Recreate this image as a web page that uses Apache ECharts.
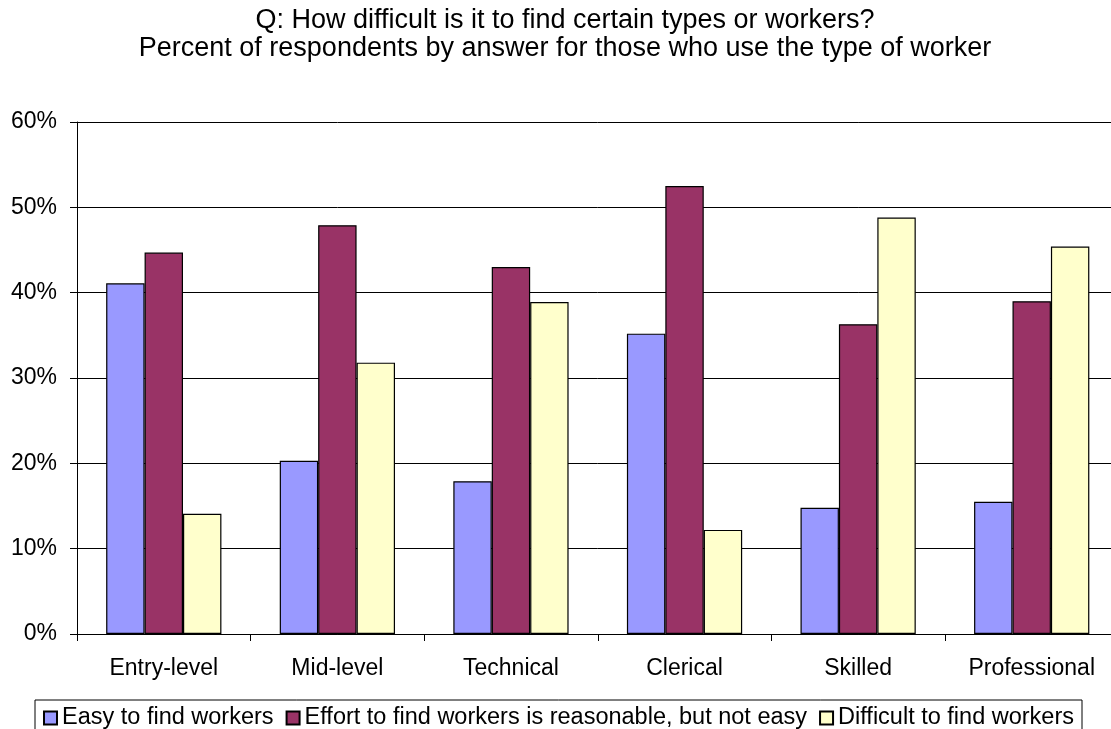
<!DOCTYPE html>
<html>
<head>
<meta charset="utf-8">
<script src="https://cdn.jsdelivr.net/npm/echarts@6/dist/echarts.min.js"></script>
<style>
html,body{margin:0;padding:0;background:#fff;overflow:hidden;width:1111px;height:729px;}
#chart{width:1119px;height:729px;}
</style>
</head>
<body>
<div id="chart"></div>
<script>
var categories = ['Entry-level', 'Mid-level', 'Technical', 'Clerical', 'Skilled', 'Professional'];
var seriesNames = ['Easy to find workers', 'Effort to find workers is reasonable, but not easy', 'Difficult to find workers'];
var easyValues = [41.1, 20.3, 17.9, 35.2, 14.8, 15.5];
var effortValues = [44.7, 47.9, 43.0, 52.5, 36.3, 39.0];
var difficultValues = [14.1, 31.8, 38.9, 12.2, 48.8, 45.4];
var yTicks = [0, 10, 20, 30, 40, 50, 60];
var colors = ['#9999FF', '#993366', '#FFFFCC'];

var FONT = 'Liberation Sans, Arial, sans-serif';
var chart = echarts.init(document.getElementById('chart'), null, {renderer: 'canvas'});

function mkSeries(name, data, color) {
  return {
    name: name,
    type: 'bar',
    data: data,
    barGap: '0%',
    barCategoryGap: '33.6%',
    itemStyle: {color: color, borderColor: '#000', borderWidth: 1.2},
    emphasis: {disabled: true},
    animation: false
  };
}

chart.setOption({
  animation: false,
  backgroundColor: '#fff',
  title: {
    text: 'Q: How difficult is it to find certain types or workers?\nPercent of respondents by answer for those who use the type of worker',
    left: 565,
    textAlign: 'center',
    top: 7,
    padding: 0,
    textStyle: {fontFamily: FONT, fontSize: 27, fontWeight: 'normal', color: '#000', lineHeight: 28}
  },
  legend: {
    left: 35,
    top: 700,
    padding: [6, 8, 12, 8],
    icon: 'rect',
    itemWidth: 13,
    itemHeight: 13,
    itemGap: 12,
    borderColor: '#000',
    borderWidth: 1,
    textStyle: {fontFamily: FONT, fontSize: 23.5, color: '#000'},
    data: seriesNames
  },
  grid: {left: 77, top: 122, right: 0.5, bottom: 95, containLabel: false},
  xAxis: {
    type: 'category',
    data: categories,
    axisLine: {lineStyle: {color: '#000', width: 1}},
    axisTick: {show: true, length: 7, lineStyle: {color: '#000'}},
    axisLabel: {fontFamily: FONT, fontSize: 23, color: '#000', margin: 23, interval: 0}
  },
  yAxis: {
    type: 'value',
    min: yTicks[0],
    max: yTicks[yTicks.length - 1],
    interval: 10,
    axisLine: {show: true, lineStyle: {color: '#000', width: 1}},
    axisTick: {show: true, length: 7, lineStyle: {color: '#000'}},
    axisLabel: {fontFamily: FONT, fontSize: 23, color: '#000', margin: 20, formatter: '{value}%'},
    splitLine: {show: true, lineStyle: {color: '#000', width: 1}}
  },
  series: [
    mkSeries(seriesNames[0], easyValues, colors[0]),
    mkSeries(seriesNames[1], effortValues, colors[1]),
    mkSeries(seriesNames[2], difficultValues, colors[2])
  ]
});
</script>
</body>
</html>
